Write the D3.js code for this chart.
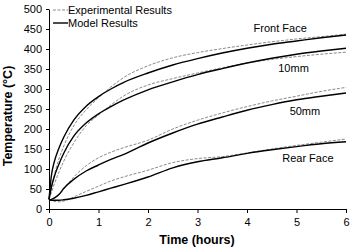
<!DOCTYPE html>
<html>
  <head>
    <meta charset="utf-8">
    <title>Temperature vs time</title>
    <script src="https://cdn.jsdelivr.net/npm/d3@7"></script>
    <style>
      body { margin: 0; background: #fff; }
      svg { display: block; font-family: "Liberation Sans", Arial, sans-serif; }
      .axis path, .axis line { stroke: #000; stroke-width: 1; }
      .axis text { font-size: 11px; fill: #000; }
      .title { font-size: 12.5px; font-weight: bold; }
      .note { font-size: 11px; }
    </style>
  </head>

  <body>
    <svg id="chart" width="350" height="247"></svg>

    <script>
      // data (hours, degrees C)
      times = [0, 0.05, 0.1, 0.2, 0.3, 0.5, 0.75, 1, 1.25, 1.5, 2, 2.5, 3, 3.5, 4, 4.5, 5, 5.5, 6];
      frontModel = [24, 85, 115, 152, 180, 222, 257, 281, 300, 316, 340, 360, 376, 390, 402, 412, 420, 428, 435];
      frontExp   = [24, 55, 82, 125, 158, 208, 248, 278, 305, 328, 358, 378, 391, 401, 410, 418, 425, 431, 437];
      mm10Model  = [24, 55, 78, 112, 140, 182, 215, 238, 256, 272, 298, 318, 336, 351, 365, 377, 387, 395, 402];
      mm10Exp    = [24, 42, 60, 92, 120, 165, 208, 235, 260, 282, 310, 326, 340, 353, 365, 374, 381, 387, 392];
      mm50Model  = [23, 24, 27, 36, 52, 74, 95, 110, 124, 136, 165, 190, 212, 230, 247, 261, 273, 282, 290];
      mm50Exp    = [23, 24, 26, 35, 50, 80, 108, 128, 142, 153, 172, 200, 222, 240, 256, 270, 282, 294, 304];
      rearModel  = [23, 22, 22, 22, 23, 27, 34, 43, 52, 61, 80, 103, 118, 128, 139, 148, 156, 163, 168];
      rearExp    = [23, 21, 19, 18, 20, 30, 44, 57, 70, 80, 97, 116, 126, 131, 140, 150, 159, 167, 175];

      xTicks = [0, 1, 2, 3, 4, 5, 6];
      yTicks = [0, 50, 100, 150, 200, 250, 300, 350, 400, 450, 500];

      labelNames = ["Front Face", "10mm", "50mm", "Rear Face"];
      labelTimes = [4.67, 4.94, 5.17, 5.23];
      labelTemps = [443, 343, 235, 117];

      // elements
      svg = d3.select("#chart");
      margin = { left: 49, right: 4, top: 9, bottom: 38 };
      width = 350;
      height = 247;

      x = d3.scaleLinear()
        .domain([0, 6])
        .range([margin.left, width - margin.right]);
      y = d3.scaleLinear()
        .domain([0, 500])
        .range([height - margin.bottom, margin.top]);

      // axes
      svg.append("g")
        .attr("class", "axis")
        .attr("transform", "translate(0," + y(0) + ")")
        .call(d3.axisBottom(x)
          .tickValues(xTicks)
          .tickFormat(d3.format("d"))
          .tickSize(4)
          .tickSizeOuter(0)
          .tickPadding(5));

      svg.append("g")
        .attr("class", "axis")
        .attr("transform", "translate(" + x(0) + ",0)")
        .call(d3.axisLeft(y)
          .tickValues(yTicks)
          .tickFormat(d3.format("d"))
          .tickSize(3)
          .tickSizeOuter(0)
          .tickPadding(4));

      svg.selectAll(".axis").attr("font-family", null).attr("font-size", null);

      // curves
      line = d3.line()
        .x(function(d, i) { return x(times[i]); })
        .y(function(d) { return y(d); })
        .curve(d3.curveMonotoneX);

      expSeries = [frontExp, mm10Exp, mm50Exp, rearExp];
      modelSeries = [frontModel, mm10Model, mm50Model, rearModel];

      svg.selectAll(".exp")
        .data(expSeries)
        .enter().append("path")
          .attr("class", "exp")
          .attr("d", line)
          .attr("fill", "none")
          .attr("stroke", "#8a8a8a")
          .attr("stroke-width", 1)
          .attr("stroke-dasharray", "3,1.5");

      svg.selectAll(".model")
        .data(modelSeries)
        .enter().append("path")
          .attr("class", "model")
          .attr("d", line)
          .attr("fill", "none")
          .attr("stroke", "#000")
          .attr("stroke-width", 1.4);

      // curve labels
      svg.selectAll(".note")
        .data(labelNames)
        .enter().append("text")
          .attr("class", "note")
          .attr("x", function(d, i) { return x(labelTimes[i]); })
          .attr("y", function(d, i) { return y(labelTemps[i]); })
          .attr("text-anchor", "middle")
          .text(function(d) { return d; });

      // legend
      legend = svg.append("g");
      legend.append("line")
        .attr("x1", 53).attr("x2", 68).attr("y1", 10).attr("y2", 10)
        .attr("stroke", "#8a8a8a").attr("stroke-width", 1)
        .attr("stroke-dasharray", "3,1.5");
      legend.append("text")
        .attr("class", "note")
        .attr("x", 68).attr("y", 14)
        .text("Experimental Results");
      legend.append("line")
        .attr("x1", 53).attr("x2", 68).attr("y1", 23).attr("y2", 23)
        .attr("stroke", "#000").attr("stroke-width", 1.4);
      legend.append("text")
        .attr("class", "note")
        .attr("x", 68).attr("y", 27)
        .text("Model Results");

      // axis titles
      svg.append("text")
        .attr("class", "title")
        .attr("x", 197)
        .attr("y", 244)
        .attr("text-anchor", "middle")
        .text("Time (hours)");

      svg.append("text")
        .attr("class", "title")
        .attr("transform", "translate(12,116) rotate(-90)")
        .attr("text-anchor", "middle")
        .text("Temperature (°C)");
    </script>
  </body>
</html>
